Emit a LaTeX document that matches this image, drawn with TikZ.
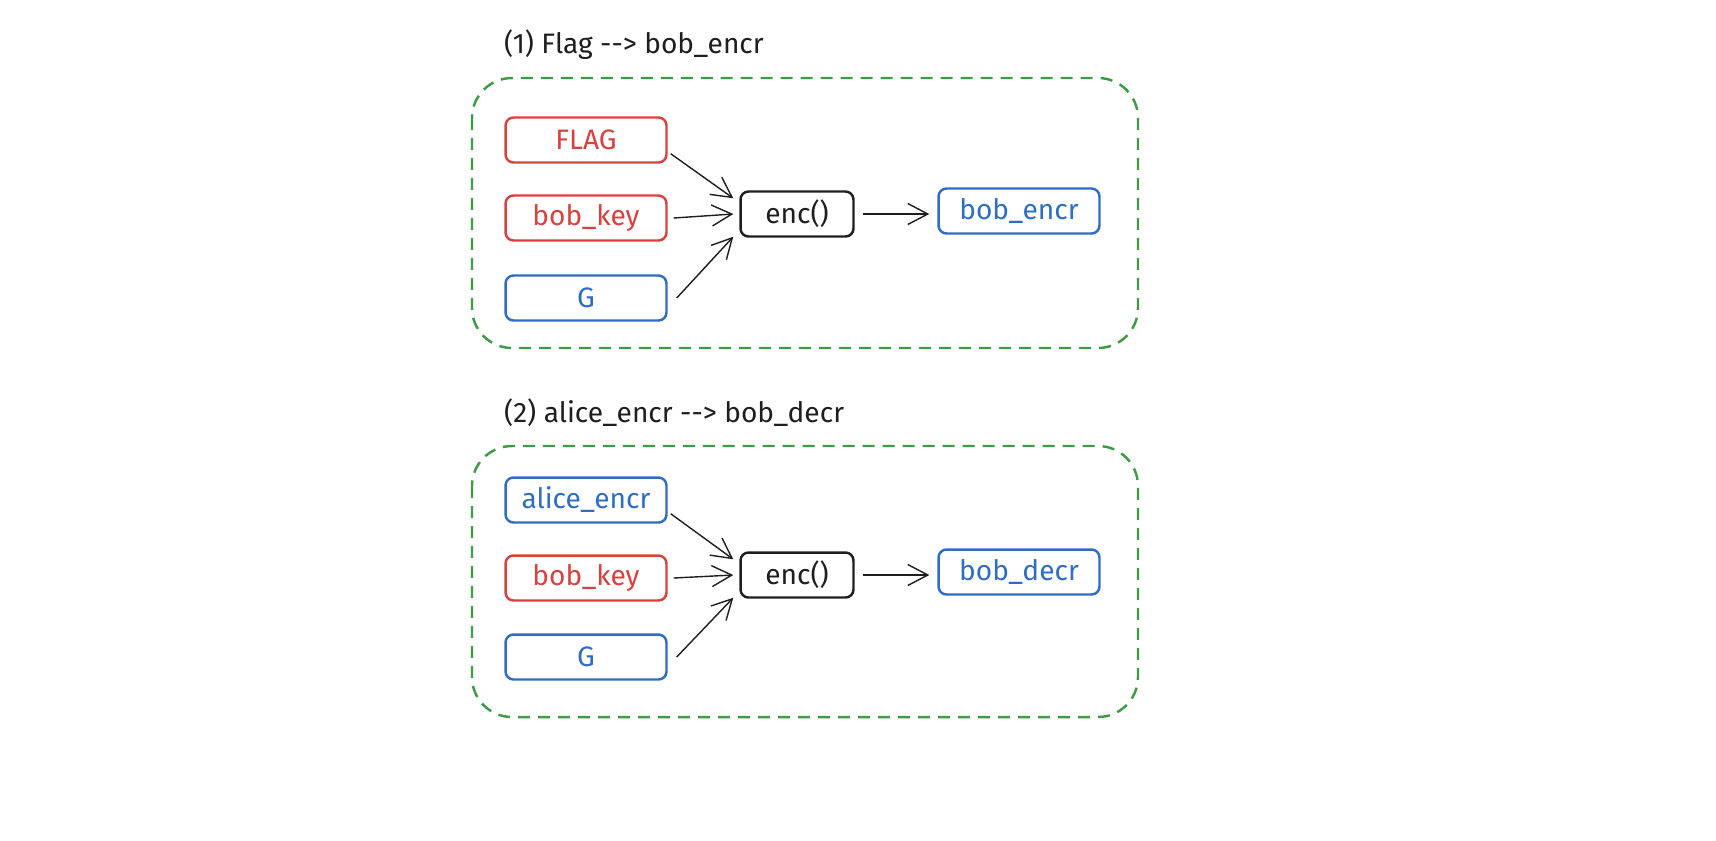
\documentclass[tikz,border=0pt]{standalone}
\usepackage{fontspec}
\setmainfont{Fira Sans}
\usetikzlibrary{shapes}
\usetikzlibrary{arrows.meta}

\definecolor{sred}{HTML}{D9413F}
\definecolor{sblue}{HTML}{2F6DC2}
\definecolor{sgreen}{HTML}{3E9A44}
\definecolor{sblack}{HTML}{1E1E1E}

\begin{document}
\begin{tikzpicture}[x=0.02cm,y=-0.02cm]
	\tikzstyle{var}=[rectangle,rounded corners=0.16cm,draw,line width=1.4pt,minimum width=3.22cm,minimum height=0.9cm,font=\fontsize{16}{18}\selectfont]
	\tikzstyle{redvar}=[var,draw=sred,text=sred]
	\tikzstyle{bluevar}=[var,draw=sblue,text=sblue]
	\tikzstyle{func}=[var,draw=sblack,text=sblack,minimum width=2.26cm]
	\tikzstyle{frame}=[draw=sgreen,line width=1.4pt,dash pattern=on 0.24cm off 0.16cm,rounded corners=0.8cm]
	\tikzstyle{title}=[anchor=west,text=sblack,font=\fontsize{16}{18}\selectfont]
	\tikzstyle{flow}=[draw=sblack,line width=0.8pt,-{Straight Barb[length=0.4cm,width=0.42cm]}]
	
	\useasboundingbox (0,0) rectangle (1716,840);
	
	% (1) Flag --> bob_encr
	\node[title] (t1) at (498,45) {(1) Flag -{}-> bob\_encr};
	\draw[frame] (472,78) rectangle (1138,348);
	\node[redvar] (flag) at (586,140) {FLAG};
	\node[redvar] (key1) at (586,218) {bob\_key};
	\node[bluevar] (g1) at (586,298) {G};
	\node[func] (enc1) at (797,214) {enc()};
	\node[bluevar] (out1) at (1019,211) {bob\_encr};
	\draw[flow] ([shift={(3,-10)}]flag.south east) -- ([shift={(-6,8)}]enc1.north west);
	\draw[flow] ([xshift=0.12cm]key1.east) -- ([xshift=-0.12cm]enc1.west);
	\draw[flow] ([xshift=0.18cm]g1.east) -- ([shift={(-6,-1)}]enc1.south west);
	\draw[flow] ([xshift=0.16cm]enc1.east) -- ([xshift=-0.16cm]enc1.east -| out1.west);
	
	% (2) alice_encr --> bob_decr
	\node[title] (t2) at (498,413) {(2) alice\_encr -{}-> bob\_decr};
	\draw[frame] (472,446) rectangle (1138,717);
	\node[bluevar] (alice) at (586,500) {alice\_encr};
	\node[redvar] (key2) at (586,578) {bob\_key};
	\node[bluevar] (g2) at (586,657) {G};
	\node[func] (enc2) at (797,575) {enc()};
	\node[bluevar] (out2) at (1019,572) {bob\_decr};
	\draw[flow] ([shift={(3,-10)}]alice.south east) -- ([shift={(-6,8)}]enc2.north west);
	\draw[flow] ([xshift=0.12cm]key2.east) -- ([xshift=-0.12cm]enc2.west);
	\draw[flow] ([xshift=0.18cm]g2.east) -- ([shift={(-6,-1)}]enc2.south west);
	\draw[flow] ([xshift=0.16cm]enc2.east) -- ([xshift=-0.16cm]enc2.east -| out2.west);
\end{tikzpicture}
\end{document}
